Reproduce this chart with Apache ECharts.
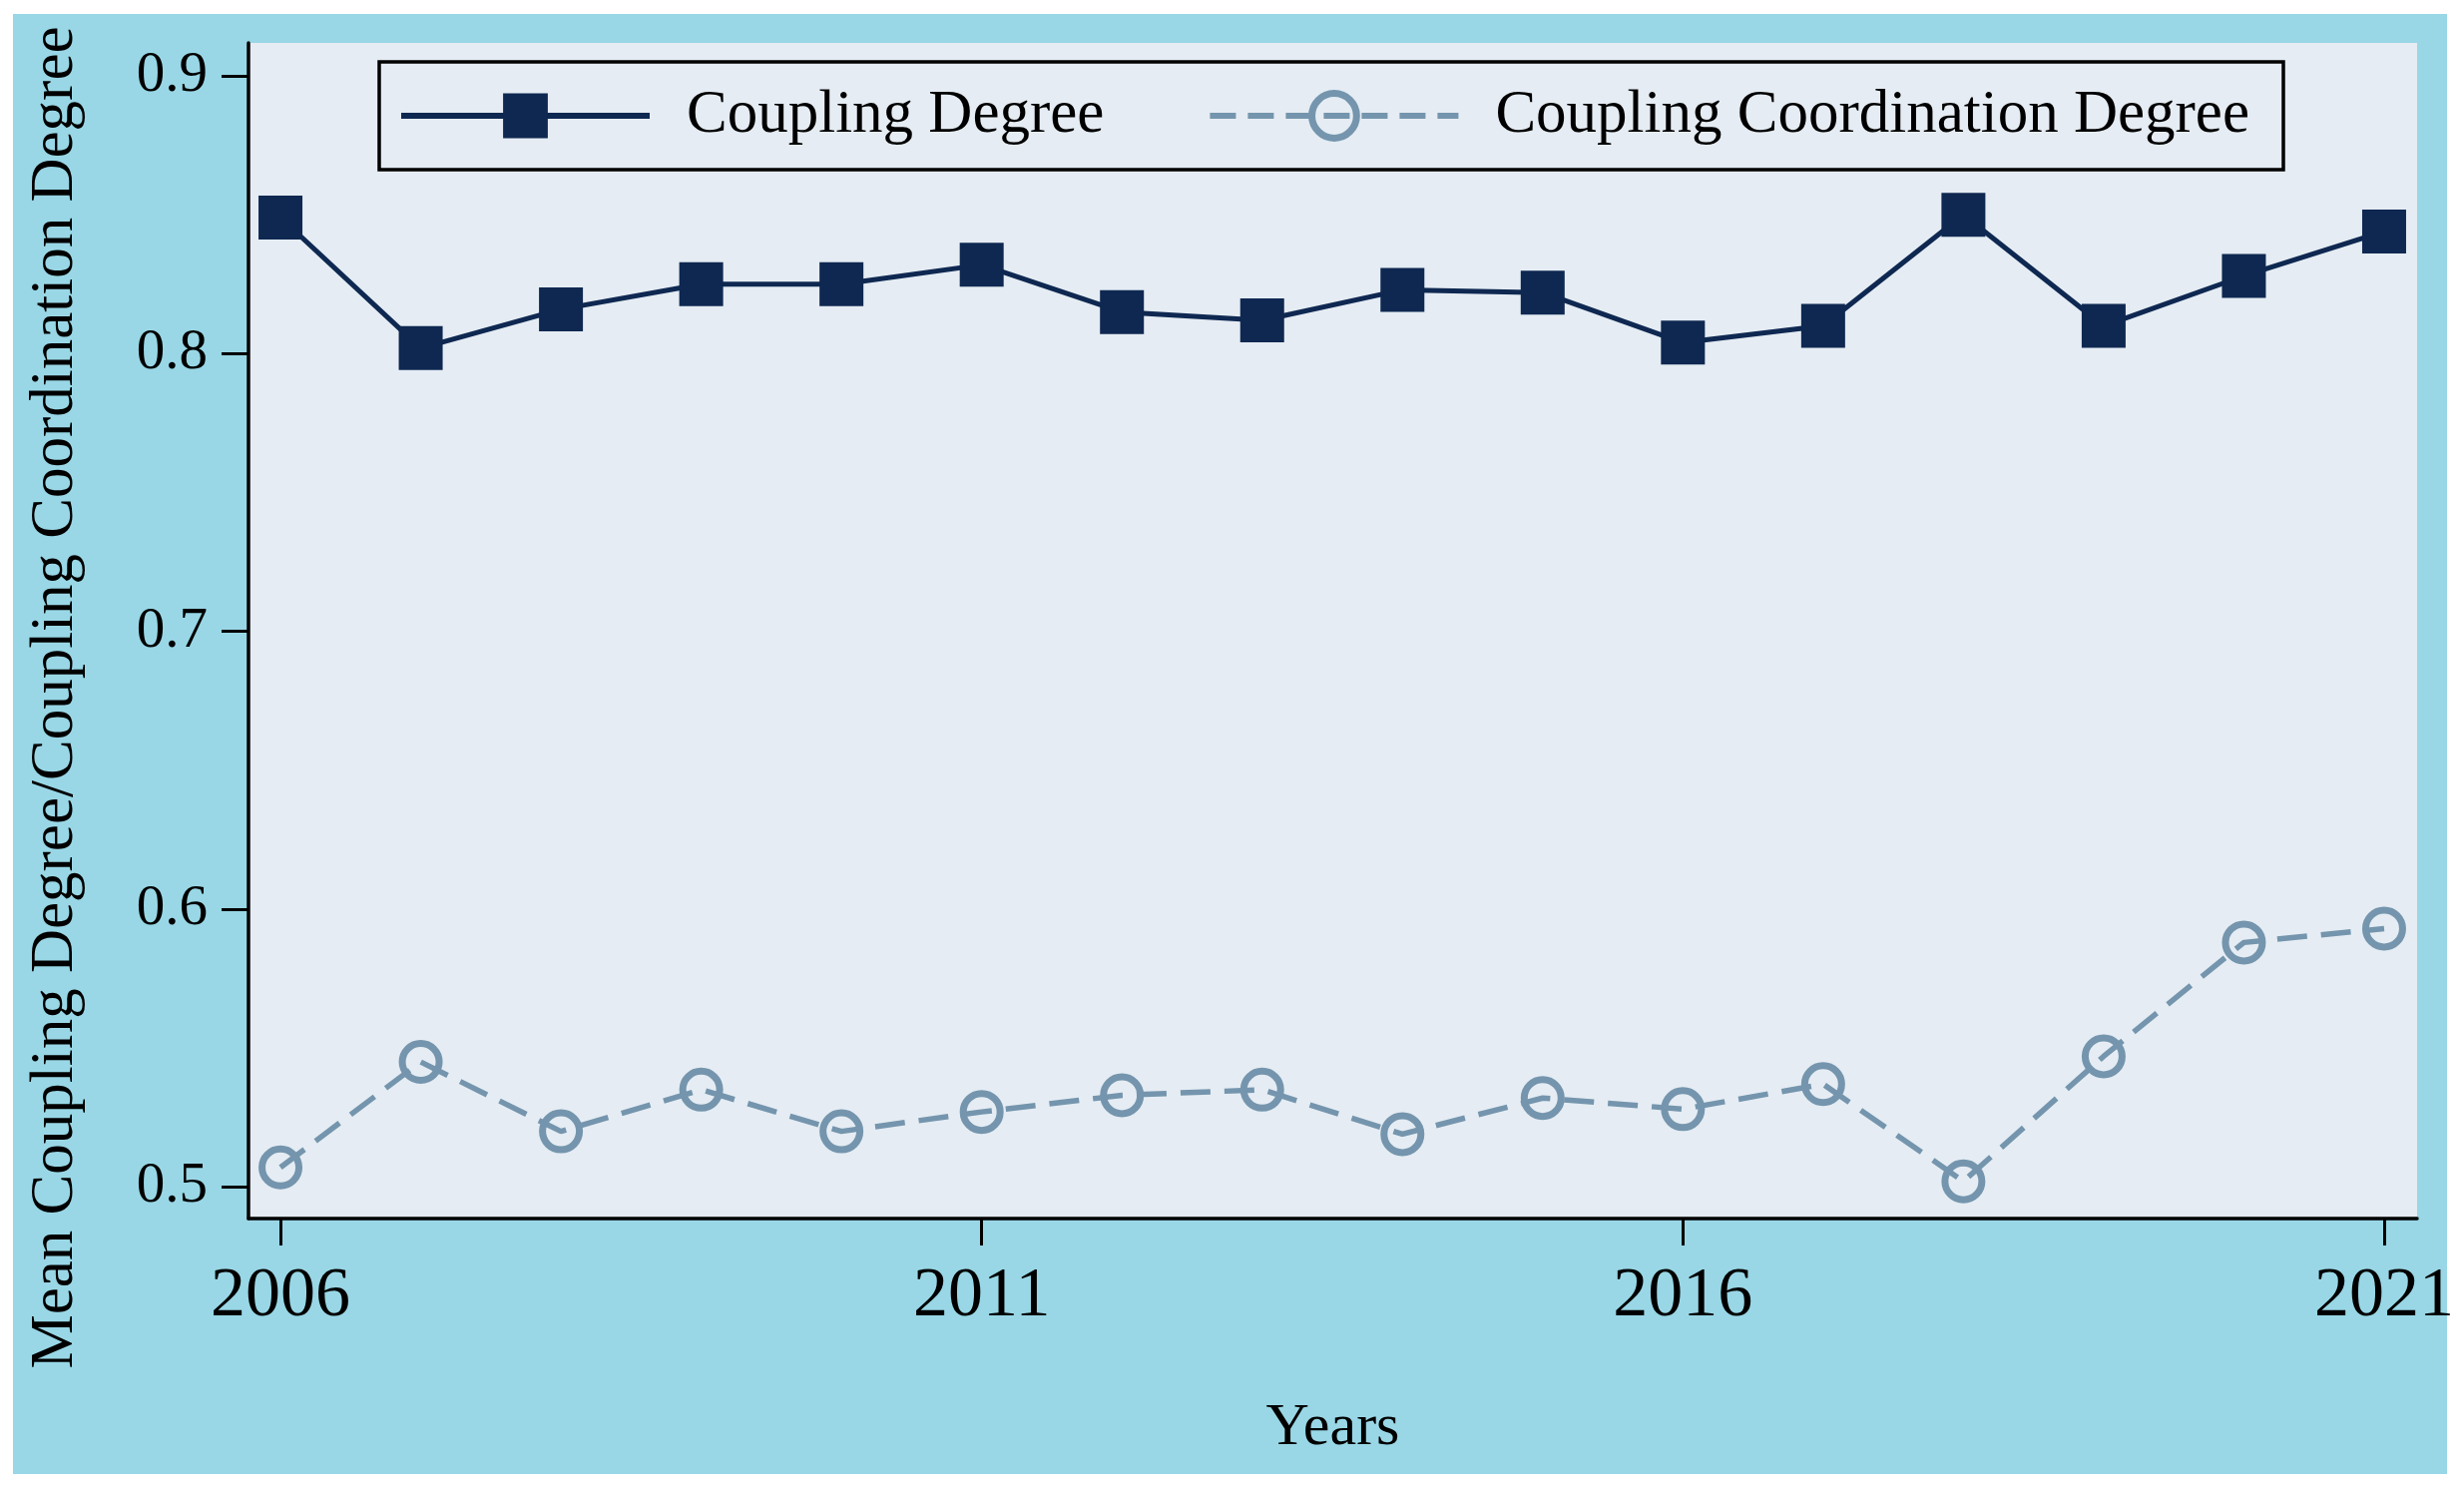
<!DOCTYPE html>
<html>
<head>
<meta charset="utf-8">
<script src="https://cdn.jsdelivr.net/npm/echarts@6/dist/echarts.min.js"></script>
<style>
html,body{margin:0;padding:0;background:#fff;}
#chart{width:2469px;height:1493px;}
</style>
</head>
<body>
<div id="chart"></div>
<script>
const years = [2006,2007,2008,2009,2010,2011,2012,2013,2014,2015,2016,2017,2018,2019,2020,2021];
const couplingDegree = [0.849,0.802,0.816,0.825,0.825,0.832,0.815,0.812,0.823,0.822,0.804,0.810,0.850,0.810,0.828,0.844];
const couplingCoordination = [0.507,0.545,0.520,0.535,0.520,0.527,0.533,0.535,0.519,0.532,0.528,0.537,0.502,0.547,0.588,0.593];
const xTicks = [2006,2011,2016,2021];
const yTicks = [0.5,0.6,0.7,0.8,0.9];
const seriesNames = ['Coupling Degree','Coupling Coordination Degree'];
const xName = 'Years';
const yName = 'Mean Coupling Degree/Coupling Coordination Degree';

const FONT = "'Liberation Serif','Times New Roman',serif";
const NAVY = '#0E2851';
const SLATE = '#7495AD';
const OUTER = '#99D7E6';
const PLOT = '#E5ECF3';

const chart = echarts.init(document.getElementById('chart'), null, {renderer:'canvas'});
const pairs = (vals) => years.map((y,i)=>[y, vals[i]]);

chart.setOption({
  animation:false,
  backgroundColor:'#ffffff',
  textStyle:{fontFamily:FONT},
  graphic:[
    {type:'rect', z:-10, shape:{x:13,y:14,width:2439,height:1463}, style:{fill:OUTER}, silent:true},
    {type:'text', z:10, x:56, y:699, rotation:Math.PI/2,
     style:{text:yName, fontFamily:FONT, fontSize:61, fill:'#000', textAlign:'center', textVerticalAlign:'middle'}}
  ],
  grid:{left:249, top:43, right:47, bottom:272, show:true, backgroundColor:PLOT, borderWidth:0, containLabel:false},
  legend:{
    left:380, top:62,
    orient:'horizontal',
    padding:[16.5,34,16.5,19],
    itemGap:103,
    itemWidth:249, itemHeight:56,
    backgroundColor:PLOT,
    borderColor:'#000', borderWidth:3.5,
    textStyle:{fontFamily:FONT, fontSize:61, color:'#000', lineHeight:61, padding:[14,0,0,32]},
    data:[
      {name:seriesNames[0], lineStyle:{width:6, color:NAVY}, itemStyle:{color:NAVY, borderWidth:0}},
      {name:seriesNames[1], lineStyle:{width:6, color:SLATE, type:[26,12]}, itemStyle:{color:'rgba(0,0,0,0)', borderColor:SLATE, borderWidth:7}}
    ]
  },
  xAxis:{
    type:'value', min:2005.772, max:2021.235,
    name:xName, nameLocation:'middle', nameGap:180,
    nameTextStyle:{fontFamily:FONT, fontSize:60, color:'#000'},
    axisLine:{show:true, onZero:false, lineStyle:{color:'#000', width:3.5}},
    axisTick:{show:true, inside:false, length:27, lineStyle:{color:'#000', width:3}, customValues:xTicks},
    axisLabel:{fontFamily:FONT, fontSize:70, color:'#000', margin:44, customValues:xTicks, formatter:(v)=>String(v)},
    splitLine:{show:false}
  },
  yAxis:{
    type:'value', min:0.4886, max:0.9119,
    axisLine:{show:true, onZero:false, lineStyle:{color:'#000', width:3.5}},
    axisTick:{show:true, inside:false, length:27, lineStyle:{color:'#000', width:3}, customValues:yTicks},
    axisLabel:{fontFamily:FONT, fontSize:57, color:'#000', margin:41, customValues:yTicks, formatter:(v)=>v.toFixed(1)},
    splitLine:{show:false}
  },
  series:[
    {
      name:seriesNames[0], type:'line', data:pairs(couplingDegree),
      symbol:'rect', symbolSize:44,
      itemStyle:{color:NAVY},
      lineStyle:{color:NAVY, width:5},
      emphasis:{disabled:true}
    },
    {
      name:seriesNames[1], type:'line', data:pairs(couplingCoordination),
      symbol:'circle', symbolSize:37,
      itemStyle:{color:'rgba(0,0,0,0)', borderColor:SLATE, borderWidth:7},
      lineStyle:{color:SLATE, width:5.5, type:[30,14]},
      emphasis:{disabled:true}
    }
  ]
});
</script>
</body>
</html>
